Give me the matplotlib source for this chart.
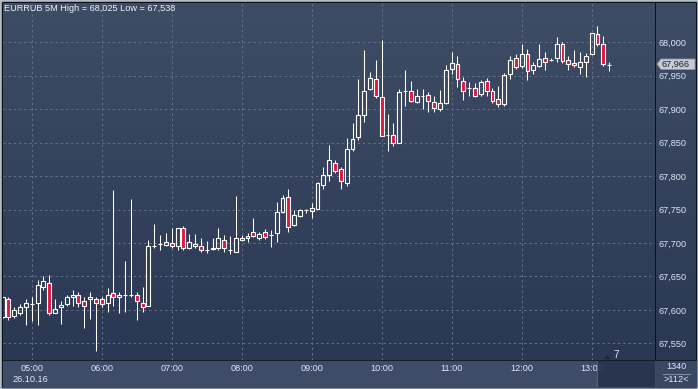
import numpy as np
import pandas as pd
import matplotlib
matplotlib.use('Agg')
import matplotlib.pyplot as plt
from matplotlib.patches import Rectangle, Polygon

W, H = 698, 389

# EURRUB 5 minute bars, 26.10.16, first bar 04:35
opens = [67.589, 67.617, 67.591, 67.596, 67.604, 67.609, 67.610, 67.634, 67.640, 67.596,
         67.604, 67.609, 67.619, 67.623, 67.613, 67.616, 67.617, 67.616, 67.611, 67.625,
         67.619, 67.623, 67.623, 67.622, 67.611, 67.606, 67.696, 67.699, 67.697, 67.700,
         67.696, 67.723, 67.693, 67.696, 67.695, 67.689, 67.691, 67.693, 67.705, 67.689,
         67.687, 67.705, 67.710, 67.717, 67.707, 67.717, 67.712, 67.715, 67.747, 67.769,
         67.727, 67.741, 67.750, 67.748, 67.751, 67.787, 67.802, 67.820, 67.810, 67.790,
         67.841, 67.858, 67.891, 67.930, 67.945, 67.918, 67.861, 67.862, 67.850, 67.927,
         67.927, 67.910, 67.920, 67.921, 67.911, 67.900, 67.909, 67.960, 67.967, 67.942,
         67.932, 67.932, 67.923, 67.942, 67.927, 67.915, 67.908, 67.952, 67.977, 67.964,
         67.983, 67.958, 67.964, 67.977, 67.974, 67.977, 67.998, 67.973, 67.969, 67.963,
         67.970, 67.982, 68.013, 67.997, 67.966]
highs = [67.620, 67.620, 67.605, 67.609, 67.617, 67.620, 67.645, 67.650, 67.652, 67.617,
         67.613, 67.622, 67.630, 67.627, 67.620, 67.627, 67.620, 67.620, 67.632, 67.779,
         67.627, 67.673, 67.766, 67.627, 67.634, 67.704, 67.728, 67.712, 67.715, 67.722,
         67.722, 67.725, 67.713, 67.713, 67.708, 67.703, 67.708, 67.722, 67.712, 67.710,
         67.770, 67.712, 67.715, 67.738, 67.717, 67.721, 67.719, 67.761, 67.771, 67.781,
         67.749, 67.751, 67.751, 67.760, 67.791, 67.814, 67.846, 67.824, 67.814, 67.857,
         67.880, 67.945, 67.989, 67.956, 67.974, 68.003, 67.893, 67.880, 67.930, 67.959,
         67.942, 67.930, 67.930, 67.925, 67.919, 67.929, 67.966, 67.985, 67.980, 67.948,
         67.940, 67.939, 67.944, 67.947, 67.932, 67.935, 67.954, 67.980, 67.983, 67.998,
         67.990, 67.970, 67.998, 67.985, 67.977, 68.008, 68.000, 67.980, 67.989, 67.985,
         67.984, 68.014, 68.025, 68.010, 67.970]
lows = [67.588, 67.585, 67.588, 67.593, 67.577, 67.584, 67.577, 67.629, 67.593, 67.596,
        67.579, 67.606, 67.606, 67.604, 67.573, 67.587, 67.538, 67.605, 67.597, 67.606,
        67.595, 67.597, 67.619, 67.585, 67.597, 67.606, 67.693, 67.690, 67.695, 67.693,
        67.690, 67.690, 67.691, 67.692, 67.687, 67.685, 67.690, 67.690, 67.687, 67.683,
        67.687, 67.703, 67.701, 67.709, 67.705, 67.706, 67.694, 67.701, 67.745, 67.716,
        67.726, 67.739, 67.745, 67.737, 67.751, 67.781, 67.793, 67.805, 67.781, 67.785,
        67.838, 67.854, 67.881, 67.928, 67.917, 67.860, 67.838, 67.845, 67.849, 67.905,
        67.910, 67.909, 67.901, 67.896, 67.896, 67.898, 67.908, 67.953, 67.933, 67.914,
        67.920, 67.918, 67.920, 67.920, 67.909, 67.904, 67.905, 67.945, 67.960, 67.962,
        67.944, 67.952, 67.963, 67.958, 67.972, 67.970, 67.969, 67.958, 67.963, 67.953,
        67.948, 67.981, 67.994, 67.965, 67.957]
closes = [67.619, 67.590, 67.600, 67.604, 67.610, 67.609, 67.637, 67.643, 67.596, 67.601,
          67.607, 67.619, 67.622, 67.611, 67.606, 67.619, 67.610, 67.609, 67.622, 67.619,
          67.622, 67.623, 67.623, 67.614, 67.605, 67.696, 67.696, 67.699, 67.701, 67.696,
          67.722, 67.692, 67.702, 67.698, 67.690, 67.690, 67.693, 67.707, 67.692, 67.689,
          67.708, 67.707, 67.708, 67.711, 67.714, 67.709, 67.712, 67.747, 67.767, 67.724,
          67.742, 67.750, 67.750, 67.753, 67.790, 67.802, 67.824, 67.808, 67.793, 67.840,
          67.856, 67.891, 67.927, 67.946, 67.919, 67.860, 67.861, 67.849, 67.925, 67.927,
          67.912, 67.919, 67.920, 67.912, 67.902, 67.909, 67.958, 67.969, 67.945, 67.927,
          67.932, 67.920, 67.941, 67.927, 67.912, 67.908, 67.951, 67.973, 67.963, 67.983,
          67.957, 67.966, 67.975, 67.970, 67.974, 67.998, 67.972, 67.967, 67.966, 67.971,
          67.980, 68.014, 67.998, 67.968, 67.966]
price_ticks = [67.55, 67.60, 67.65, 67.70, 67.75, 67.80, 67.85, 67.90, 67.95, 68.00]
title = 'EURRUB 5M High = 68,025 Low = 67,538'
date_label = '26.10.16'
last_label = '67,966'

times = pd.date_range('2016-10-26 04:35', periods=len(opens), freq='5min')

txt = '#dbe6f6'
font = 'Liberation Sans'
fs = 6.6

def fx(px):
    return px / W

def fy(py):
    return 1 - py / H

fig = plt.figure(figsize=(W / 100, H / 100), dpi=100, facecolor='#b4bcc8')

# background panels drawn in pixel coordinates
bg = fig.add_axes([0, 0, 1, 1])
bg.axis('off')
bg.set_zorder(0)
bg.add_patch(Rectangle((2, 2), 694, 385, color='#0d121a', zorder=0))
grad = np.linspace(0, 1, 200)[:, None, None]
top_c = np.array([63, 76, 101]) / 255
bot_c = np.array([43, 56, 84]) / 255
img = top_c * (1 - grad) + bot_c * grad
bg.imshow(img, extent=(3, 655, 360, 3), aspect='auto', interpolation='bilinear', zorder=1)
bg.imshow(img, extent=(656, 696, 360, 3), aspect='auto', interpolation='bilinear', zorder=1)
bg.add_patch(Rectangle((3, 361), 652, 26, color='#3f4c67', zorder=2))
bg.add_patch(Rectangle((656, 361), 40, 26, color='#3a4762', zorder=2))
bg.plot([663, 690], [373.5, 373.5], color='#7f8aa0', lw=0.8, zorder=3)
bg.set_xlim(0, W)
bg.set_ylim(H, 0)

ax = fig.add_axes([fx(3), fy(360), fx(652), 357 / H])
ax.set_zorder(1)
ax.patch.set_visible(False)

o = np.array(opens)
hi = np.array(highs)
lo = np.array(lows)
c = np.array(closes)
x = np.arange(len(o))
top = np.maximum(o, c)
bot = np.minimum(o, c)
up = c >= o

ax.vlines(x, top, hi, color='white', lw=0.75, zorder=3)
ax.vlines(x, lo, bot, color='white', lw=0.75, zorder=3)
ax.bar(x[up], (top - bot)[up], bottom=bot[up], width=0.68, facecolor='none',
       edgecolor='white', linewidth=0.8, zorder=4)
ax.bar(x[~up], (top - bot)[~up], bottom=bot[~up], width=0.68, facecolor='#e0163f',
       edgecolor='white', linewidth=0.8, zorder=4)

hour_idx = [i for i, t in enumerate(times) if t.minute == 0]
ax.set_xticks(hour_idx)
ax.set_xticklabels([times[i].strftime('%H:%M') for i in hour_idx])
ax.set_yticks(price_ticks)
ax.set_yticklabels([f'{v:.3f}'.replace('.', ',') for v in price_ticks])
ax.set_xlim(0.08, 111.86)
ax.set_ylim(67.5251, 68.0587)
ax.grid(True, color='#62708c', linestyle=(0, (2.2, 2.8)), linewidth=0.75)
ax.set_axisbelow(True)
for s in ax.spines.values():
    s.set_visible(False)
ax.yaxis.tick_right()
ax.tick_params(axis='y', length=0, pad=2.3, labelcolor=txt, labelsize=fs)
ax.tick_params(axis='x', length=0, pad=2.8, labelcolor=txt, labelsize=fs)
for lab in ax.get_xticklabels() + ax.get_yticklabels():
    lab.set_fontfamily(font)

# texts and markers on top of everything
fig.text(fx(4), fy(8.3), title, color='#eef3fa', fontsize=fs, family=font, va='center')
fig.text(fx(30), fy(379.7), date_label, color=txt, fontsize=fs, family=font,
         va='center', ha='center')

# scroll zone at the right end of the time axis
fig.patches.append(Rectangle((fx(598), fy(387)), fx(57), 26 / H, transform=fig.transFigure,
                             facecolor='#26324b', alpha=0.88, edgecolor='none', zorder=5))
fig.patches.append(Rectangle((fx(597), fy(387)), fx(1.2), 26 / H, transform=fig.transFigure,
                             facecolor='#566279', edgecolor='none', zorder=5))
fig.patches.append(Polygon([(fx(603), fy(359)), (fx(607), fy(355.5)), (fx(611), fy(359))],
                           closed=True, transform=fig.transFigure, facecolor='#1e2637',
                           edgecolor='none', zorder=5))
fig.text(fx(616), fy(355), '7', color=txt, fontsize=7.2, family=font,
         va='center', ha='center', zorder=6)

fig.text(fx(676), fy(366.5), '1340', color=txt, fontsize=fs, family=font,
         va='center', ha='center', zorder=6)
fig.text(fx(676), fy(380), '>112<', color=txt, fontsize=fs, family=font,
         va='center', ha='center', zorder=6)

# last price marker
fig.patches.append(Polygon([(fx(657), fy(64)), (fx(661), fy(59)), (fx(695), fy(59)),
                            (fx(695), fy(69.5)), (fx(661), fy(69.5))], closed=True,
                           transform=fig.transFigure, facecolor='#c6cad2',
                           edgecolor='#8e96a6', linewidth=0.6, zorder=5))
fig.text(fx(662), fy(64.3), last_label, color='#1b2230', fontsize=fs, family=font,
         va='center', ha='left', zorder=6)

fig.savefig('out.png', dpi=100, facecolor=fig.get_facecolor())
